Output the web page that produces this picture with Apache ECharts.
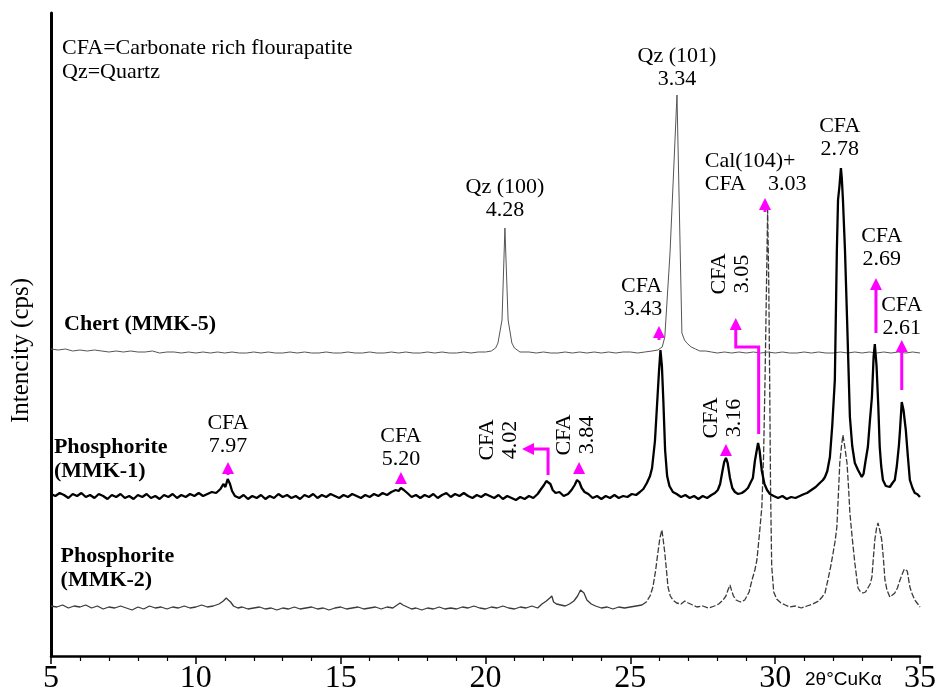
<!DOCTYPE html>
<html><head><meta charset="utf-8">
<script src="https://cdn.jsdelivr.net/npm/echarts@6/dist/echarts.min.js"></script>
<style>html,body{margin:0;padding:0;background:#fff}#c{width:936px;height:695px}</style>
</head><body><div id="c"></div>
<script>
// 2θ (degrees) vs intensity (arbitrary cps, traces offset)
const chert = [
[5.0,307],[5.25,306],[5.5,307],[5.75,305],[6.0,306],[6.25,305],[6.5,306],[6.75,305],[7.0,304],[7.25,305],[7.5,304],[7.75,305],[8.0,304],[8.25,304],[8.5,305],[8.75,303],[9.0,304],[9.25,304],[9.5,303],[9.75,304],[10.0,303],[10.25,304],[10.5,303],[10.75,304],[11.0,303],[11.25,304],[11.5,303],[11.75,303],[12.0,304],[12.25,303],[12.5,304],[12.75,303],[13.0,303],[13.25,304],[13.5,303],[13.75,304],[14.0,303],[14.25,303],[14.5,304],[14.75,303],[15.0,303],[15.25,304],[15.5,303],[15.75,303],[16.0,304],[16.25,303],[16.5,303],[16.75,304],[17.0,303],[17.25,304],[17.5,303],[17.75,303],[18.0,304],[18.25,303],[18.5,304],[18.75,303],[19.0,303],[19.25,304],[19.5,303],[19.75,304],[20.0,304],[20.2,305],[20.35,308],[20.43,313],[20.57,336],[20.67,428],[20.78,336],[20.91,313],[21.0,308],[21.19,304],[21.5,304],[21.75,303],[22.0,304],[22.25,303],[22.5,303],[22.75,304],[23.0,303],[23.25,304],[23.5,303],[23.75,304],[24.0,303],[24.25,304],[24.5,303],[24.75,304],[25.0,304],[25.25,303],[25.5,304],[25.75,305],[25.95,306],[26.1,309],[26.19,319],[26.37,403],[26.61,561],[26.78,323],[26.87,316],[26.95,313],[27.1,309],[27.25,307],[27.4,305],[27.6,305],[27.8,304],[28.0,303],[28.25,304],[28.5,303],[28.75,304],[29.0,303],[29.25,304],[29.5,303],[29.75,304],[30.0,303],[30.25,304],[30.5,303],[30.75,303],[31.0,304],[31.25,303],[31.5,304],[31.75,303],[32.0,303],[32.25,304],[32.5,303],[32.75,304],[33.0,303],[33.25,304],[33.5,303],[33.75,304],[34.0,303],[34.25,304],[34.5,303],[34.75,304],[35.0,303]
];
const mmk1 = [
[5.0,162],[5.15,160],[5.3,163],[5.45,161],[5.6,158],[5.75,162],[5.9,160],[6.05,163],[6.2,159],[6.35,161],[6.5,158],[6.65,162],[6.8,160],[6.95,157],[7.1,161],[7.25,159],[7.4,162],[7.55,158],[7.7,160],[7.85,157],[8.0,161],[8.15,159],[8.3,162],[8.45,158],[8.6,160],[8.75,157],[8.9,161],[9.05,159],[9.2,162],[9.35,158],[9.5,161],[9.65,159],[9.8,162],[9.95,160],[10.1,163],[10.25,160],[10.4,162],[10.55,164],[10.7,163],[10.85,167],[10.95,172],[11.02,169],[11.1,177],[11.18,172],[11.25,165],[11.35,160],[11.5,158],[11.65,161],[11.8,157],[11.95,160],[12.1,158],[12.25,161],[12.4,157],[12.55,160],[12.7,158],[12.85,162],[13.0,159],[13.15,161],[13.3,158],[13.45,160],[13.6,157],[13.75,161],[13.9,159],[14.05,162],[14.2,158],[14.35,161],[14.5,159],[14.65,162],[14.8,160],[14.95,158],[15.1,161],[15.25,159],[15.4,162],[15.55,160],[15.7,158],[15.85,161],[16.0,159],[16.15,162],[16.3,160],[16.45,163],[16.6,161],[16.75,164],[16.9,166],[17.0,165],[17.08,168],[17.18,166],[17.3,163],[17.45,159],[17.6,161],[17.75,158],[17.9,161],[18.05,159],[18.2,162],[18.35,158],[18.5,161],[18.65,163],[18.8,159],[18.95,162],[19.1,160],[19.25,163],[19.4,160],[19.55,158],[19.7,161],[19.85,159],[20.0,162],[20.15,160],[20.3,158],[20.45,161],[20.6,157],[20.75,160],[20.9,158],[21.05,156],[21.2,159],[21.35,157],[21.5,160],[21.65,158],[21.8,162],[21.92,167],[22.02,171],[22.1,175],[22.16,177],[22.24,172],[22.32,166],[22.42,163],[22.55,164],[22.7,160],[22.85,162],[22.97,166],[23.08,171],[23.16,176],[23.24,174],[23.32,168],[23.42,164],[23.55,162],[23.7,158],[23.85,160],[24.0,157],[24.15,160],[24.3,158],[24.45,161],[24.6,158],[24.75,160],[24.9,159],[25.05,162],[25.2,161],[25.33,164],[25.45,167],[25.57,173],[25.68,180],[25.75,188],[25.85,215],[25.92,250],[25.99,285],[26.04,306],[26.09,290],[26.14,255],[26.2,206],[26.27,180],[26.35,170],[26.47,164],[26.6,162],[26.75,159],[26.9,161],[27.05,158],[27.2,160],[27.35,157],[27.5,160],[27.65,158],[27.8,161],[27.92,163],[28.02,166],[28.1,172],[28.18,185],[28.24,194],[28.3,198],[28.36,193],[28.44,178],[28.52,168],[28.61,164],[28.72,162],[28.85,163],[28.95,165],[29.06,168],[29.16,174],[29.23,178],[29.3,195],[29.36,205],[29.41,213],[29.46,206],[29.54,185],[29.63,172],[29.72,166],[29.82,162],[29.95,160],[30.1,158],[30.25,160],[30.4,157],[30.55,159],[30.7,158],[30.85,160],[31.0,162],[31.1,163],[31.25,166],[31.4,169],[31.54,173],[31.65,176],[31.72,179],[31.8,185],[31.89,199],[31.97,230],[32.06,276],[32.13,406],[32.17,456],[32.22,470],[32.27,488],[32.3,478],[32.34,456],[32.41,406],[32.48,339],[32.58,239],[32.66,210],[32.75,193],[32.86,186],[32.99,179],[33.05,182],[33.12,195],[33.2,209],[33.27,235],[33.34,259],[33.4,300],[33.44,312],[33.5,290],[33.56,250],[33.61,209],[33.66,190],[33.72,176],[33.82,170],[33.96,169],[34.05,173],[34.13,176],[34.2,190],[34.27,210],[34.31,226],[34.37,254],[34.43,246],[34.51,226],[34.58,200],[34.65,176],[34.74,168],[34.82,163],[34.9,162],[35.0,159]
];
const mmk2 = [
[5.0,50],[5.2,49],[5.4,51],[5.6,48],[5.8,50],[6.0,49],[6.2,51],[6.4,48],[6.6,50],[6.8,47],[7.0,49],[7.2,48],[7.4,50],[7.6,48],[7.8,46],[8.0,49],[8.2,47],[8.4,50],[8.6,48],[8.8,49],[9.0,47],[9.2,49],[9.4,48],[9.6,50],[9.8,48],[10.0,49],[10.2,51],[10.4,49],[10.6,50],[10.8,52],[10.95,55],[11.05,58],[11.12,56],[11.2,54],[11.3,50],[11.45,48],[11.6,49],[11.8,47],[12.0,48],[12.2,49],[12.4,47],[12.6,48],[12.8,46],[13.0,48],[13.2,47],[13.4,49],[13.6,47],[13.8,48],[14.0,49],[14.2,47],[14.4,48],[14.6,46],[14.8,48],[15.0,49],[15.2,47],[15.4,48],[15.6,49],[15.8,47],[16.0,48],[16.2,49],[16.4,47],[16.6,49],[16.8,48],[16.95,51],[17.05,53],[17.15,51],[17.3,49],[17.45,47],[17.6,48],[17.8,46],[18.0,48],[18.2,47],[18.4,49],[18.6,47],[18.8,48],[19.0,47],[19.2,49],[19.4,48],[19.6,50],[19.8,48],[20.0,47],[20.2,49],[20.4,48],[20.6,50],[20.8,48],[21.0,47],[21.2,49],[21.4,48],[21.6,50],[21.8,48],[21.95,52],[22.1,55],[22.22,58],[22.29,60],[22.35,54],[22.45,52],[22.6,51],[22.75,50],[22.9,52],[23.05,55],[23.18,60],[23.28,66],[23.33,68],[23.4,63],[23.5,56],[23.65,52],[23.8,50],[24.0,48],[24.2,49],[24.4,47],[24.6,49],[24.8,48],[25.0,49],[25.2,50],[25.4,51],[25.55,54],[25.68,60],[25.78,69],[25.87,85],[25.95,103],[26.02,118],[26.09,126],[26.14,115],[26.19,103],[26.25,85],[26.3,69],[26.38,60],[26.47,56],[26.6,53],[26.75,52],[26.88,55],[27.0,53],[27.15,51],[27.3,49],[27.5,50],[27.7,48],[27.9,50],[28.05,52],[28.2,56],[28.3,60],[28.37,66],[28.44,71],[28.5,65],[28.56,60],[28.65,56],[28.8,54],[28.95,56],[29.1,64],[29.2,76],[29.3,86],[29.37,96],[29.47,126],[29.54,149],[29.6,200],[29.65,276],[29.7,370],[29.74,446],[29.78,370],[29.81,276],[29.84,170],[29.88,90],[29.95,64],[30.05,57],[30.2,53],[30.35,51],[30.5,49],[30.7,50],[30.9,48],[31.1,50],[31.3,52],[31.5,55],[31.62,59],[31.72,63],[31.82,76],[31.92,90],[32.0,103],[32.07,115],[32.13,129],[32.18,160],[32.23,193],[32.29,210],[32.34,221],[32.4,210],[32.48,193],[32.53,170],[32.58,143],[32.66,118],[32.75,93],[32.86,68],[32.95,64],[33.03,63],[33.12,64],[33.2,68],[33.28,72],[33.34,79],[33.39,98],[33.44,116],[33.5,128],[33.55,133],[33.61,126],[33.68,116],[33.74,96],[33.79,76],[33.86,66],[33.96,59],[34.05,61],[34.13,63],[34.22,68],[34.31,76],[34.4,83],[34.46,87],[34.51,89],[34.56,85],[34.65,69],[34.73,62],[34.82,56],[34.9,53],[35.0,49]
];
const xMin = 5, xMax = 35, xStep = 5;
const yMin = 0, yMax = 643;
const dashFrom = 25.4; // MMK-2 drawn dashed from here on

// peak annotations: text, anchor (2θ, intensity), alignment, rotated?
const peakLabels = [
  {text:'CFA\n7.97', x:11.11, y:221},
  {text:'CFA\n5.20', x:17.08, y:208},
  {text:'CFA\n4.02', x:20.45, y:216, rot:true},
  {text:'CFA\n3.84', x:23.1, y:221, rot:true},
  {text:'CFA\n3.43', x:26.1, y:358, align:'right'},
  {text:'CFA\n3.16', x:28.2, y:238, rot:true},
  {text:'CFA\n3.05', x:28.47, y:382, rot:true},
  {text:'Cal(104)+\nCFA    3.03', x:27.57, y:483, align:'left'},
  {text:'Qz (101)\n3.34', x:26.61, y:588},
  {text:'Qz (100)\n4.28', x:20.67, y:457},
  {text:'CFA\n2.78', x:32.23, y:518},
  {text:'CFA\n2.69', x:33.68, y:408},
  {text:'CFA\n2.61', x:34.37, y:339}
];
const sampleLabels = [
  {text:'Chert (MMK-5)', x:5.45, y:332},
  {text:'Phosphorite\n(MMK-1)', x:5.1, y:197},
  {text:'Phosphorite\n(MMK-2)', x:5.33, y:88}
];
const arrows = [
  [[11.11,181],[11.11,194]],
  [[17.08,172],[17.08,184]],
  [[22.16,181],[22.16,207],[21.26,207]],
  [[23.23,182],[23.23,194]],
  [[25.99,316],[25.99,330]],
  [[28.3,200],[28.3,212]],
  [[29.43,222],[29.43,309],[28.64,309],[28.64,338]],
  [[29.65,444],[29.65,458]],
  [[33.48,323],[33.48,378]],
  [[34.37,266],[34.37,316]]
];
const notes = ['CFA=Carbonate rich flourapatite', 'Qz=Quartz'];
const xUnit = '2θ°CuKα';
const yName = 'Intencity (cps)';

const SERIF = "'Liberation Serif','Times New Roman',serif";
const MAG = '#ff00ff';
const chart = echarts.init(document.getElementById('c'), null, {renderer:'canvas'});

function textSeries(items, weight, size, lh, defAlign) {
  return {
    type:'custom', coordinateSystem:'cartesian2d', silent:true, z:10, clip:false,
    encode:{x:0, y:1},
    data: items.map(d => [d.x, d.y]),
    renderItem: (params, api) => {
      const d = items[params.dataIndex];
      const p = api.coord([d.x, d.y]);
      return {type:'text', x:p[0], y:p[1], rotation: d.rot ? Math.PI/2 : 0,
        style:{text:d.text, fill:'#000', fontFamily:SERIF, fontSize:size, fontWeight:weight,
          align: d.align || defAlign, verticalAlign:'middle', lineHeight:lh}};
    }
  };
}

const solidPart = mmk2.filter(p => p[0] <= dashFrom);
const dashPart = mmk2.filter(p => p[0] >= dashFrom);

chart.setOption({
  animation:false,
  backgroundColor:'#fff',
  grid:{left:51, right:16, top:13, bottom:39, containLabel:false, outerBoundsMode:'none'},
  xAxis:{type:'value', min:xMin, max:xMax, interval:xStep,
    axisLine:{lineStyle:{color:'#000', width:2.5}},
    axisTick:{length:8, lineStyle:{color:'#000', width:1.5}},
    minorTick:{show:true, splitNumber:5, length:5, lineStyle:{color:'#000', width:1.2}},
    axisLabel:{color:'#000', fontFamily:SERIF, fontSize:32, margin:7},
    splitLine:{show:false}},
  yAxis:{type:'value', min:yMin, max:yMax,
    axisLine:{show:true, lineStyle:{color:'#000', width:3}},
    axisTick:{show:false}, axisLabel:{show:false}, splitLine:{show:false},
    name:yName, nameLocation:'middle', nameGap:17, nameRotate:90,
    nameTextStyle:{color:'#000', fontFamily:SERIF, fontSize:25, padding:[0,32,0,0]}},
  graphic:[
    {type:'text', left:62, top:36, style:{text:notes.join('\n'), fill:'#000', fontFamily:SERIF, fontSize:22, lineHeight:24}},
    {type:'text', left:805, top:670, style:{text:xUnit, fill:'#000', fontFamily:"'Liberation Sans',Arial,sans-serif", fontSize:19}}
  ],
  series:[
    {type:'line', name:'Chert (MMK-5)', data:chert, showSymbol:false, lineStyle:{color:'#555', width:1}, z:3},
    {type:'line', name:'Phosphorite (MMK-1)', data:mmk1, showSymbol:false, lineStyle:{color:'#000', width:2.3}, z:4},
    {type:'line', name:'Phosphorite (MMK-2)', data:solidPart, showSymbol:false, lineStyle:{color:'#3a3a3a', width:1.3}, z:2},
    {type:'line', name:'Phosphorite (MMK-2) ', data:dashPart, showSymbol:false, lineStyle:{color:'#3a3a3a', width:1.3, type:[6,2]}, z:2},
    textSeries(peakLabels, 'normal', 22, 23, 'center'),
    textSeries(sampleLabels, 'bold', 22, 24, 'left'),
    {type:'custom', coordinateSystem:'cartesian2d', silent:true, z:8, clip:false,
      encode:{x:0, y:1},
      data: arrows.map(a => a[0]),
      renderItem: (params, api) => {
        const pts = arrows[params.dataIndex].map(p => api.coord(p));
        const n = pts.length, tip = pts[n-1], prev = pts[n-2];
        const dx = tip[0]-prev[0], dy = tip[1]-prev[1], L = Math.hypot(dx, dy);
        const ux = dx/L, uy = dy/L, hl = 12, hw = 6;
        const base = [tip[0]-ux*hl, tip[1]-uy*hl];
        const linePts = pts.slice(0, n-1).concat([base]);
        return {type:'group', children:[
          {type:'polyline', shape:{points:linePts}, style:{stroke:MAG, lineWidth:3, fill:null}},
          {type:'polygon', shape:{points:[tip, [base[0]-uy*hw, base[1]+ux*hw], [base[0]+uy*hw, base[1]-ux*hw]]}, style:{fill:MAG}}
        ]};
      }}
  ]
});
</script></body></html>
